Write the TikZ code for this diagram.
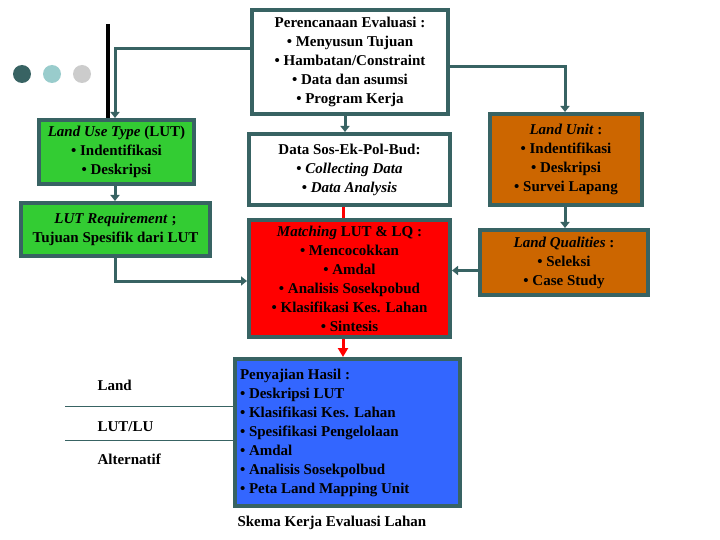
\documentclass[tikz,border=0pt]{standalone}
\usepackage{fontspec}
\setmainfont{Liberation Serif}
\usetikzlibrary{arrows.meta}
\definecolor{tealline}{RGB}{56,99,99}
\definecolor{dotlight}{RGB}{153,204,204}
\definecolor{dotgrey}{RGB}{204,204,204}
\definecolor{boxgreen}{RGB}{51,204,51}
\definecolor{boxblue}{RGB}{51,102,255}
\definecolor{boxorange}{RGB}{204,102,0}
\tikzset{
  box/.style={draw=tealline, line width=4pt, inner sep=2pt, align=center,
    font=\fontsize{15}{19}\selectfont\bfseries},
  conn/.style={draw=tealline, line width=3pt, -{Triangle[width=9pt,length=6pt]}},
  redconn/.style={draw=red, line width=3pt},
  sidetext/.style={font=\fontsize{15}{19}\selectfont\bfseries}
}
\begin{document}
\begin{tikzpicture}[x=1pt,y=1pt]
\useasboundingbox (0,0) rectangle (720,-540);
% dots and bar
\fill [tealline] (22,-74) circle (9);
\fill [dotlight] (52,-74) circle (9);
\fill [dotgrey] (82,-74) circle (9);
\draw [black, line width=4pt] (108,-24) -- (108,-118);
% boxes
\node [box, fill=white, minimum width=196pt, minimum height=104pt] (plan) at (350,-62)
  {Perencanaan Evaluasi :\\ • Menyusun Tujuan\\ • Hambatan/Constraint\\ • Data dan asumsi\\ • Program Kerja};
\node [box, fill=white, minimum width=201pt, minimum height=71pt] (data) at (349.5,-169.5)
  {Data Sos-Ek-Pol-Bud:\\ • \textit{Collecting Data}\\ • \textit{Data Analysis}};
\node [box, fill=red, minimum width=201pt, minimum height=117pt] (match) at (349.5,-278.5)
  {\textit{Matching} LUT \& LQ :\\ • Mencocokkan\\ • Amdal\\ • Analisis Sosekpobud\\ • Klasifikasi Kes. Lahan\\ • Sintesis};
\node [box, fill=boxblue, minimum width=225pt, minimum height=147pt, align=flush left,
  text width=215pt] (hasil) at (347.5,-432.5)
  {Penyajian Hasil :\\ • Deskripsi LUT\\ • Klasifikasi Kes. Lahan\\ • Spesifikasi Pengelolaan\\ • Amdal\\ • Analisis Sosekpolbud\\ • Peta Land Mapping Unit};
\node [box, fill=boxgreen, minimum width=155pt, minimum height=64pt] (lut) at (116.5,-152)
  {\textit{Land Use Type} (LUT)\\ • Indentifikasi\\ • Deskripsi};
\node [box, fill=boxgreen, minimum width=189pt, minimum height=53pt] (req) at (115.5,-229.5)
  {\textit{LUT Requirement} ;\\ Tujuan Spesifik dari LUT};
\node [box, fill=boxorange, minimum width=152pt, minimum height=91pt] (unit) at (566,-159.5)
  {\textit{Land Unit} :\\ • Indentifikasi\\ • Deskripsi\\ • Survei Lapang};
\node [box, fill=boxorange, minimum width=168pt, minimum height=65pt] (lq) at (564,-262.5)
  {\textit{Land Qualities} :\\ • Seleksi\\ • Case Study};
% connectors
\draw [conn] ([yshift=13pt]plan.west) -| ([xshift=-1.5pt]lut.north);
\draw [conn] ([yshift=-5pt]plan.east) -| ([xshift=-1pt]unit.north);
\draw [conn] ([xshift=-5pt]plan.south) -- ([xshift=-5pt]plan.south |- data.north);
\draw [redconn] ([xshift=-6.5pt]data.south) -- ([xshift=-6.5pt]data.south |- match.north);
\draw [redconn, -{Triangle[width=10pt,length=9pt]}] ([xshift=-6.5pt]match.south) -- ([xshift=-6.5pt]match.south |- hasil.north);
\draw [conn] ([xshift=-1.5pt]lut.south) -- ([xshift=-1.5pt]lut.south |- req.north);
\draw [conn] (req.south) |- ([yshift=-2.5pt]match.west);
\draw [conn] ([xshift=-1pt]unit.south) -- ([xshift=-1pt]unit.south |- lq.north);
\coordinate (lqin) at ([yshift=-8pt]lq.west);
\draw [conn] (lqin) -- (lqin -| match.east);
% side labels
\node [sidetext, anchor=west] (land) at (94,-385) {Land};
\node [sidetext, anchor=west] (lutlu) at (94,-427) {LUT/LU};
\node [sidetext, anchor=west] (alt) at (94,-459) {Alternatif};
\coordinate (sepa) at (65,-406);
\coordinate (sepb) at (65,-440);
\draw [tealline, line width=0.8pt] (sepa) -- (sepa -| hasil.west);
\draw [tealline, line width=0.8pt] (sepb) -- (sepb -| hasil.west);
\node [sidetext, anchor=west] (caption) at (234,-523) {Skema Kerja Evaluasi Lahan};
\end{tikzpicture}
\end{document}
